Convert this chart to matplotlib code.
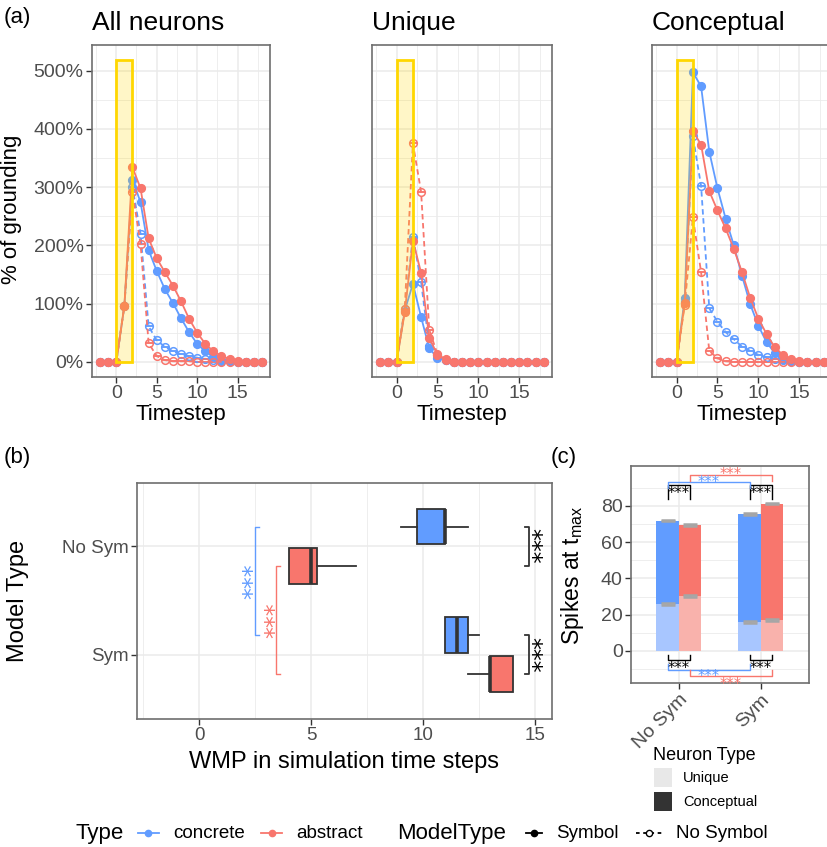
import numpy as np
import matplotlib.pyplot as plt
from matplotlib.lines import Line2D
from matplotlib.patches import Rectangle

plt.rcParams["font.family"] = ["Liberation Sans", "DejaVu Sans"]

W, H = 828, 847
BLUE = "#619CFF"
RED = "#F8766D"
BLUE_LIGHT = "#A8C6FF"
RED_LIGHT = "#F9B2AC"
DARK = "#333333"
GRID = "#EBEBEB"
STAR_FONT = "DejaVu Sans"

# ---- (a) % of grounding per timestep ----
timestep = np.arange(-2, 19)
all_concrete_sym = [0, 0, 0, 96, 313, 274, 192, 156, 125, 101, 75, 51, 31, 18, 9, 4, 1, 0, 0, 0, 0]
all_abstract_sym = [0, 0, 0, 96, 334, 298, 212, 178, 154, 131, 104, 74, 50, 31, 18, 10, 5, 1, 0, 0, 0]
all_concrete_nosym = [0, 0, 0, 96, 300, 220, 61, 37, 26, 18, 13, 10, 7, 5, 3, 2, 1, 0, 0, 0, 0]
all_abstract_nosym = [0, 0, 0, 96, 292, 202, 32, 10, 3, 1, 1, 1, 0, 0, 0, 0, 0, 0, 0, 0, 0]

uni_concrete_sym = [0, 0, 0, 88, 134, 77, 23, 7, 3, 0, 0, 0, 0, 0, 0, 0, 0, 0, 0, 0, 0]
uni_abstract_sym = [0, 0, 0, 85, 208, 153, 41, 12, 5, 0, 0, 0, 0, 0, 0, 0, 0, 0, 0, 0, 0]
uni_concrete_nosym = [0, 0, 0, 91, 215, 137, 28, 11, 4, 0, 0, 0, 0, 0, 0, 0, 0, 0, 0, 0, 0]
uni_abstract_nosym = [0, 0, 0, 91, 375, 292, 55, 13, 3, 0, 0, 0, 0, 0, 0, 0, 0, 0, 0, 0, 0]

con_concrete_sym = [0, 0, 0, 109, 497, 473, 361, 298, 246, 200, 148, 99, 62, 34, 15, 5, 1, 0, 0, 0, 0]
con_abstract_sym = [0, 0, 0, 101, 396, 373, 293, 260, 229, 194, 154, 110, 74, 48, 25, 12, 5, 2, 0, 0, 0]
con_concrete_nosym = [0, 0, 0, 103, 387, 302, 92, 69, 51, 39, 26, 19, 12, 8, 5, 3, 1, 0, 0, 0, 0]
con_abstract_nosym = [0, 0, 0, 98, 248, 154, 19, 6, 1, 0, 0, 0, 0, 0, 0, 0, 0, 0, 0, 0, 0]

# ---- (b) WMP boxplots (concrete, abstract) x (No Sym, Sym) ----
wmp_groups = ["No Sym", "Sym"]
wmp_concrete = dict(whislo=[9, 11], q1=[9.75, 11], med=[11, 11.5], q3=[11, 12], whishi=[12, 12.5])
wmp_abstract = dict(whislo=[4, 12], q1=[4, 13], med=[5, 13], q3=[5.25, 14], whishi=[7, 14])

# ---- (c) spikes at t_max, stacked unique + conceptual ----
spk_groups = ["No Sym", "Sym"]
spk_concrete_unique = [25.8, 16.0]
spk_concrete_concept = [46.0, 59.4]
spk_abstract_unique = [30.2, 17.0]
spk_abstract_concept = [39.3, 64.3]


def fx(x):
    return x / W


def fy(y):
    return 1 - y / H


def rect(l, t, r, b):
    return [l / W, 1 - b / H, (r - l) / W, (b - t) / H]


def style(ax):
    ax.set_axisbelow(True)
    ax.grid(which="major", color=GRID, lw=1.1)
    ax.grid(which="minor", color=GRID, lw=0.6)
    ax.tick_params(which="major", length=4, width=1, color=DARK, labelcolor="#4D4D4D", pad=2)
    ax.tick_params(which="minor", length=0)
    for s in ax.spines.values():
        s.set_color("#6E6E6E")
        s.set_linewidth(1.2)


fig = plt.figure(figsize=(W / 100, H / 100), dpi=100)

panels = [
    ("All neurons", (92, 270), all_concrete_sym, all_abstract_sym, all_concrete_nosym, all_abstract_nosym),
    ("Unique", (372, 552), uni_concrete_sym, uni_abstract_sym, uni_concrete_nosym, uni_abstract_nosym),
    ("Conceptual", (652, 832), con_concrete_sym, con_abstract_sym, con_concrete_nosym, con_abstract_nosym),
]
for i, (title, (l, r), cs, ab, csn, abn) in enumerate(panels):
    ax = fig.add_axes(rect(l, 45, r, 377))
    style(ax)
    ax.set_xlim(-3, 19)
    ax.set_ylim(-26, 544)
    ax.set_xticks([0, 5, 10, 15])
    ax.set_xticks([-2.5, 2.5, 7.5, 12.5, 17.5], minor=True)
    ax.set_yticks(range(0, 501, 100))
    ax.set_yticks(range(50, 501, 100), minor=True)
    ax.tick_params(axis="x", labelsize=14)
    if i == 0:
        ax.set_yticklabels([f"{v}%" for v in range(0, 501, 100)], fontsize=14)
    else:
        ax.tick_params(axis="y", which="major", length=0, labelleft=False)
    for y, col, dashed in [(cs, BLUE, False), (csn, BLUE, True), (ab, RED, False), (abn, RED, True)]:
        ax.errorbar(timestep, y, yerr=np.zeros(len(y)), color=col, lw=1.3,
                    ls=(0, (3, 2)) if dashed else "-", marker="o", ms=5.5,
                    mfc="none" if dashed else col, mew=1.1, capsize=3, elinewidth=1)
    ax.add_patch(Rectangle((0, 0), 2, 518, facecolor=(1, 0.84, 0, 0.22),
                           edgecolor="#FFD700", lw=2, zorder=5))
    fig.text(fx(l), fy(30), title, fontsize=19, va="baseline")
    fig.text(fx((l + r) / 2), fy(420), "Timestep", fontsize=16, ha="center", va="baseline")

fig.text(fx(12), fy(209), "% of grounding", fontsize=16, rotation=90, ha="center", va="center")

# ---- (b) ----
axb = fig.add_axes(rect(137, 483, 552, 719))
style(axb)
ypos = {"No Sym": 2, "Sym": 1}
off = 0.18
for stats, col, sign in [(wmp_concrete, BLUE, 1), (wmp_abstract, RED, -1)]:
    bx = [dict(whislo=stats["whislo"][k], q1=stats["q1"][k], med=stats["med"][k],
               q3=stats["q3"][k], whishi=stats["whishi"][k], fliers=[]) for k in range(len(wmp_groups))]
    pos = [ypos[g] + sign * off for g in wmp_groups]
    axb.bxp(bx, positions=pos, widths=0.33, orientation="horizontal", patch_artist=True,
            showcaps=False, showfliers=False, manage_ticks=False,
            boxprops=dict(facecolor=col, edgecolor=DARK, lw=1.3),
            medianprops=dict(color=DARK, lw=2.6),
            whiskerprops=dict(color=DARK, lw=1.3))
axb.set_xlim(-2.77, 15.76)
axb.set_ylim(0.41, 2.58)
axb.set_xticks([0, 5, 10, 15])
axb.set_xticks([-2.5, 2.5, 7.5, 12.5], minor=True)
axb.set_yticks([ypos[g] for g in wmp_groups])
axb.set_yticklabels(wmp_groups, fontsize=13.5)
axb.tick_params(axis="x", labelsize=13.5)


# significance brackets
def vbracket(ax, x, y0, y1, tick, col, lw=1.0):
    ax.plot([x + tick, x, x, x + tick], [y0, y0, y1, y1], color=col, lw=lw, clip_on=False)


vbracket(axb, 2.5, 2.18, 1.18, 0.17, BLUE)
vbracket(axb, 3.45, 1.82, 0.82, 0.17, RED)
vbracket(axb, 14.75, 2.18, 1.82, -0.2, DARK, 1.3)
vbracket(axb, 14.75, 1.18, 0.82, -0.2, DARK, 1.3)
star_b = dict(fontsize=17, family=STAR_FONT, ha="center", va="center", clip_on=False)
axb.text(2.42, 1.68, "***", rotation=90, color=BLUE, **star_b)
axb.text(3.39, 1.32, "***", rotation=90, color=RED, **star_b)
axb.text(14.78, 2.0, "***", rotation=-90, color="black", **star_b)
axb.text(14.78, 1.0, "***", rotation=-90, color="black", **star_b)

fig.text(fx(344), fy(768), "WMP in simulation time steps", fontsize=17, ha="center", va="baseline")
fig.text(fx(18), fy(601), "Model Type", fontsize=17, rotation=90, ha="center", va="center")

# ---- (c) ----
axc = fig.add_axes(rect(631, 466, 809, 683))
style(axc)
xg = np.arange(1, len(spk_groups) + 1)
bw = 0.27
xc, xa = xg - bw / 2, xg + bw / 2
axc.bar(xc, spk_concrete_unique, bw, color=BLUE_LIGHT)
axc.bar(xc, spk_concrete_concept, bw, bottom=spk_concrete_unique, color=BLUE)
axc.bar(xa, spk_abstract_unique, bw, color=RED_LIGHT)
axc.bar(xa, spk_abstract_concept, bw, bottom=spk_abstract_unique, color=RED)
tops_c = np.add(spk_concrete_unique, spk_concrete_concept)
tops_a = np.add(spk_abstract_unique, spk_abstract_concept)
for xs, ys in [(xc, spk_concrete_unique), (xc, tops_c), (xa, spk_abstract_unique), (xa, tops_a)]:
    axc.errorbar(xs, ys, yerr=0.4, fmt="none", ecolor="#A6A6A6", capsize=5, capthick=1.8, elinewidth=1.8)
axc.set_xlim(0.42, 2.59)
axc.set_ylim(-17.7, 102)
axc.set_yticks(range(0, 81, 20))
axc.set_yticks(range(-10, 100, 20), minor=True)
axc.set_xticks(xg)
axc.set_xticklabels(spk_groups, rotation=45, ha="right", va="top", fontsize=14,
                    rotation_mode="anchor")
axc.tick_params(axis="y", labelsize=14)


def hbracket(ax, x0, x1, yb, ytop, col):
    ax.plot([x0, x0, x1, x1], [yb, ytop, ytop, yb], color=col, lw=1.0)


star_c = dict(fontsize=10.5, family=STAR_FONT, ha="center", va="center", clip_on=False)
for k in range(len(spk_groups)):
    hbracket(axc, xc[k], xa[k], 84, 91.5, "black")
    axc.text(xg[k], 86.9, "***", **star_c)
    hbracket(axc, xc[k], xa[k], -2, -5.2, "black")
    axc.text(xg[k], -9.5, "***", **star_c)
hbracket(axc, xc[0], xc[1], 90, 93, BLUE)
axc.text((xc[0] + xc[1]) / 2, 93.0, "***", color=BLUE, **star_c)
hbracket(axc, xa[0], xa[1], 94, 97.1, RED)
axc.text((xa[0] + xa[1]) / 2, 97.2, "***", color=RED, **star_c)
hbracket(axc, xc[0], xc[1], -7, -10.3, BLUE)
axc.text((xc[0] + xc[1]) / 2, -14.3, "***", color=BLUE, **star_c)
hbracket(axc, xa[0], xa[1], -10.7, -13.8, RED)
axc.text((xa[0] + xa[1]) / 2, -18.5, "***", color=RED, **star_c)

fig.text(fx(573), fy(575), r"Spikes at t$_\mathregular{max}$", fontsize=16.5, rotation=90,
         ha="center", va="center")

# Neuron Type legend
fig.text(fx(653), fy(755), "Neuron Type", fontsize=13, va="center")
for y0, col, lab in [(768, "#E8E8E8", "Unique"), (792, DARK, "Conceptual")]:
    fig.add_artist(Rectangle((fx(654), fy(y0 + 19)), 18 / W, 19 / H, transform=fig.transFigure,
                             facecolor=col, edgecolor="none"))
    fig.text(fx(683), fy(y0 + 10), lab, fontsize=10.5, va="center")

# bottom legend
ly = 833
fig.text(fx(76), fy(ly), "Type", fontsize=16, va="center")
fig.text(fx(397), fy(ly), "ModelType", fontsize=16, va="center")
for x0, x1, col, ls, filled, lab in [(138, 159, BLUE, "-", True, "concrete"),
                                     (261, 282, RED, "-", True, "abstract"),
                                     (526, 542, "black", "-", True, "Symbol"),
                                     (636, 662, "black", (0, (2, 2)), False, "No Symbol")]:
    fig.add_artist(Line2D([fx(x0), fx(x1)], [fy(ly)] * 2, transform=fig.transFigure,
                          color=col, lw=1.3, ls=ls))
    fig.add_artist(Line2D([fx((x0 + x1) / 2)], [fy(ly)], transform=fig.transFigure, color=col,
                          marker="o", ms=4.5, mfc=col if filled else "white", mew=1, ls="none"))
    fig.text(fx(x1 + 14), fy(ly), lab, fontsize=13.5, va="center")

fig.text(fx(4), fy(17), "(a)", fontsize=16, va="center")
fig.text(fx(4), fy(457), "(b)", fontsize=16, va="center")
fig.text(fx(551), fy(457), "(c)", fontsize=16, va="center")

fig.savefig("out.png", dpi=100)
